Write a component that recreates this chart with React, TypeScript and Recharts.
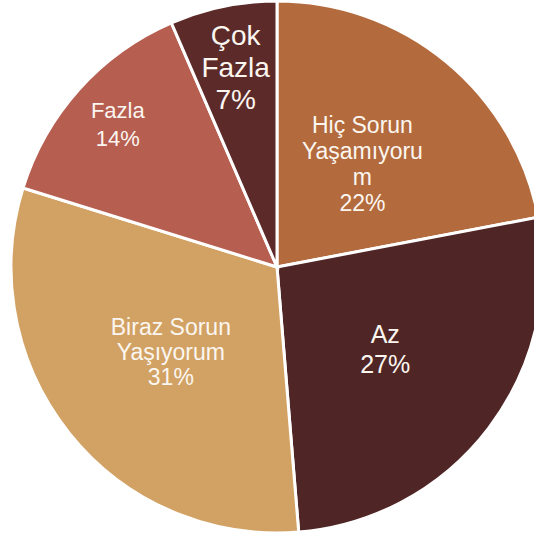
import React from 'react'
import { PieChart, Pie, Cell } from 'recharts'

// ── Data ──────────────────────────────────────────────────────────────────────

const categories = ['Hiç Sorun Yaşamıyorum', 'Az', 'Biraz Sorun Yaşıyorum', 'Fazla', 'Çok Fazla']
const shares = [22.0, 26.7, 31.1, 13.7, 6.5]
const labelLines = [
  ['Hiç Sorun', 'Yaşamıyoru', 'm'],
  ['Az'],
  ['Biraz Sorun', 'Yaşıyorum'],
  ['Fazla'],
  ['Çok', 'Fazla'],
]

// ── Styles ────────────────────────────────────────────────────────────────────

const COLORS = ['#B36A3D', '#4F2625', '#D2A264', '#B65E50', '#5C2A28']
const LABEL_DIST = [134, 136, 136, 214, 204]
const FONT_SIZE = [23, 25, 23, 22, 28]
const LINE_H = [26, 30, 25, 28, 32]

const data = categories.map((name, i) => ({ name, value: shares[i] }))

const RADIAN = Math.PI / 180

function renderLabel(props: any) {
  const { cx, cy, midAngle, index, value } = props
  const r = LABEL_DIST[index]
  const x = cx + r * Math.cos(-midAngle * RADIAN)
  const y = cy + r * Math.sin(-midAngle * RADIAN)
  const lines = [...labelLines[index], `${Math.round(value)}%`]
  const fs = FONT_SIZE[index]
  const lh = LINE_H[index]
  const firstBaseline = y - ((lines.length - 1) * lh) / 2 + fs * 0.36
  return (
    <text
      x={x}
      y={firstBaseline}
      fill="#FBF6F0"
      textAnchor="middle"
      fontFamily="'Liberation Sans', Arial, sans-serif"
      fontSize={fs}
    >
      {lines.map((l, i) => (
        <tspan key={i} x={x} y={firstBaseline + i * lh}>{l}</tspan>
      ))}
    </text>
  )
}

// ── Component ─────────────────────────────────────────────────────────────────

export default function App() {
  return (
    <div style={{ position: 'absolute', left: 0, top: 0, width: 534, height: 538, background: '#fff' }}>
      <PieChart width={534} height={538} margin={{ top: 0, right: 0, bottom: 0, left: 0 }}>
        <Pie
          data={data}
          dataKey="value"
          nameKey="name"
          cx={277}
          cy={267}
          outerRadius={266}
          startAngle={90}
          endAngle={-270}
          stroke="#ffffff"
          strokeWidth={3}
          label={renderLabel}
          labelLine={false}
          isAnimationActive={false}
        >
          {data.map((d, i) => (
            <Cell key={d.name} fill={COLORS[i]} />
          ))}
        </Pie>
      </PieChart>
    </div>
  )
}
